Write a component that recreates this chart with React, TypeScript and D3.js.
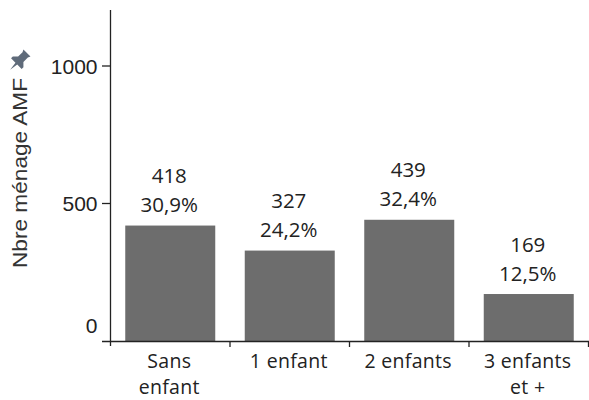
import React from "react";
import * as d3 from "d3";

const categories = ["Sans enfant", "1 enfant", "2 enfants", "3 enfants et +"];
const categoryLines = [["Sans", "enfant"], ["1 enfant"], ["2 enfants"], ["3 enfants", "et +"]];
const counts = [418, 327, 439, 169];
const shares = ["30,9%", "24,2%", "32,4%", "12,5%"];
const yTicks = [0, 500, 1000];
const yTitle = "Nbre ménage AMF";

const W = 589, H = 400;
const axisX = 110.5, baseY = 341;
const labelFont = "'Open Sans', 'Noto Sans', sans-serif";
const axisFont = "'Liberation Sans', Arial, sans-serif";

export default function App() {
  const x = d3.scaleBand<string>().domain(categories).range([axisX, axisX + 119.5 * 4]).paddingInner(0.25).paddingOuter(0.125);
  const y = d3.scaleLinear().domain([0, 1000]).range([baseY, 66]);
  const band = 119.5;
  return (
    <svg width={W} height={H} viewBox={`0 0 ${W} ${H}`} style={{ position: "absolute", left: 0, top: 0, background: "#fff" }}>
      {categories.map((c, i) => {
        const bx = x(c)! + (x.bandwidth() - 90) / 2;
        return <rect key={c} x={bx} y={y(counts[i]) - 0.5} width={90} height={baseY - y(counts[i]) + 0.5} fill="#6d6d6d" />;
      })}
      <line x1={axisX} x2={axisX} y1={10} y2={346} stroke="#222" strokeWidth={1.3} />
      <line x1={102} x2={W} y1={baseY + 0.5} y2={baseY + 0.5} stroke="#222" strokeWidth={1.3} />
      {yTicks.filter(t => t > 0).map(t => (
        <line key={t} x1={102} x2={axisX} y1={y(t)} y2={y(t)} stroke="#222" strokeWidth={1.3} />
      ))}
      {yTicks.map(t => (
        <text key={t} x={97.5} y={t === 0 ? 333 : y(t) + 7.5} textAnchor="end" fontFamily={axisFont} fontSize={21} fill="#222">{t}</text>
      ))}
      {categories.map((c, i) => (
        <line key={c} x1={axisX + band * (i + 1)} x2={axisX + band * (i + 1)} y1={baseY} y2={347} stroke="#222" strokeWidth={1.3} />
      ))}
      {categories.map((c, i) => {
        const cx = axisX + band * (i + 0.5) - 1;
        return categoryLines[i].map((l, j) => (
          <text key={l} x={cx} y={367.5 + j * 26.5} textAnchor="middle" fontFamily={labelFont} fontSize={19.5} letterSpacing={0.3} fill="#222">{l}</text>
        ));
      })}
      {categories.map((c, i) => {
        const cx = x(c)! + x.bandwidth() / 2 - 1;
        return (
          <g key={c} fontFamily={labelFont} fontSize={20.5} fill="#222" textAnchor="middle">
            <text x={cx} y={y(counts[i]) - 43}>{counts[i]}</text>
            <text x={cx} y={y(counts[i]) - 14}>{shares[i]}</text>
          </g>
        );
      })}
      <text transform="translate(27,268) rotate(-90)" fontFamily={axisFont} fontSize={20.5} textLength={190} lengthAdjust="spacingAndGlyphs" fill="#333">{yTitle}</text>
      <g transform="translate(19,61) rotate(45) scale(1.25)" fill="#5f6b7a">
        <path d="M-4,-9 L4,-9 L3,-7 L3,-2 L6,1 L6,3 L1,3 L0,10 L-1,3 L-6,3 L-6,1 L-3,-2 L-3,-7 Z" />
      </g>
    </svg>
  );
}
